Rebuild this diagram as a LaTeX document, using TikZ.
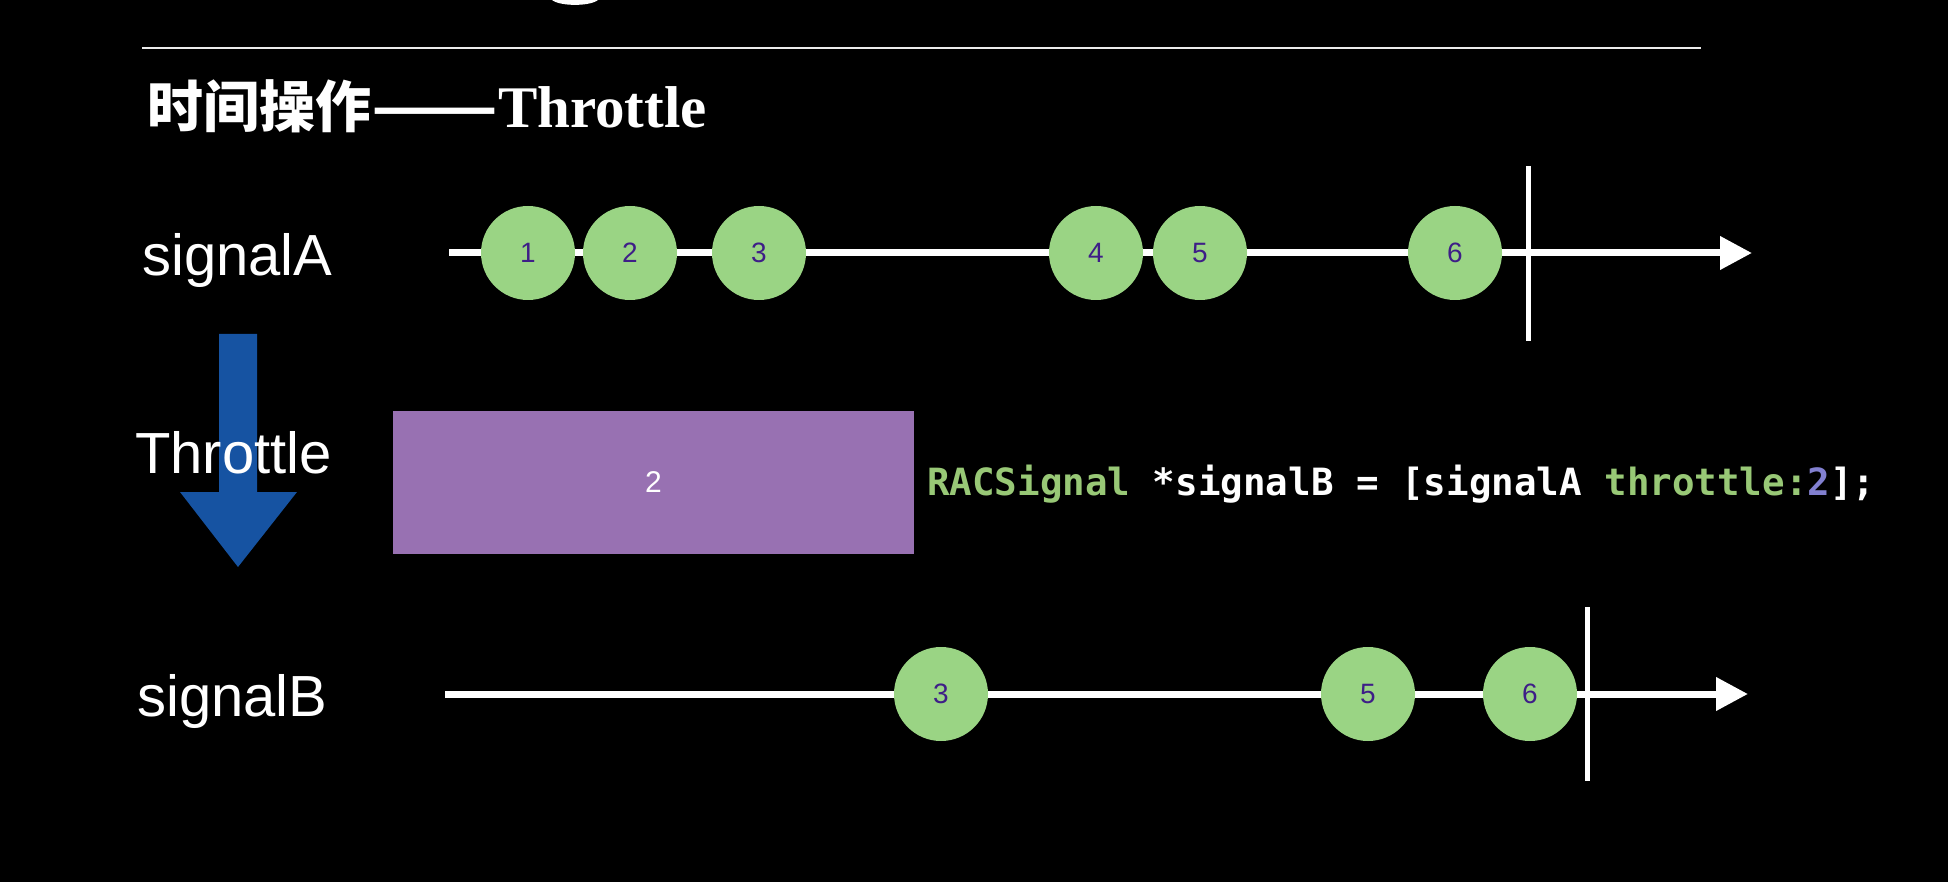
\documentclass[tikz,border=0pt]{standalone}
\usepackage{fontspec}
\setmainfont{Liberation Sans}
\newfontfamily\cjkfont{Noto Sans CJK SC}
\newfontfamily\serffont{Liberation Serif}
\newfontfamily\codefont{DejaVu Sans Mono}
\usetikzlibrary{arrows.meta}
\definecolor{ballgreen}{RGB}{154,212,132}
\definecolor{numpurple}{RGB}{62,30,135}
\definecolor{boxpurple}{RGB}{152,113,178}
\definecolor{arrowblue}{RGB}{22,83,162}
\definecolor{codegreen}{RGB}{152,200,118}
\definecolor{codenum}{RGB}{130,128,208}
\definecolor{rulegray}{RGB}{235,235,235}
\begin{document}
\begin{tikzpicture}[x=1pt,y=-1pt,
  ball/.style={circle,fill=ballgreen,minimum size=94pt,inner sep=0pt,text=numpurple,font=\fontsize{28}{28}\selectfont},
  axisline/.style={white,line width=7pt,-{Triangle[length=32pt,width=32pt]}},
  endbar/.style={white,line width=5pt},
  siglabel/.style={text=white,anchor=base west,inner sep=0pt,font=\fontsize{58}{58}\selectfont}]
\fill[black] (0,0) rectangle (1948,882);
\useasboundingbox (0,0) rectangle (1948,882);
% cut-off glyph at the top
\fill[white] (552,0) .. controls (560,6.5) and (590,6.5) .. (598,0) -- cycle;
% rule
\coordinate (rl) at (142,48);
\coordinate (rr) at (1701,48);
\draw[rulegray,line width=2pt] (rl) -- (rr);
% title
\node[anchor=base west,inner sep=0pt,text=white] (title) at (147,128)
  {{\cjkfont\bfseries\fontsize{56}{56}\selectfont 时间操作\resizebox{127pt}{\height}{——}}{\serffont\bfseries\fontsize{59}{59}\selectfont Throttle}};
% blue arrow
\fill[arrowblue] (219,334) -- (257,334) -- (257,492) -- (297,492) -- (238,567) -- (180,492) -- (219,492) -- cycle;
% labels
\node[siglabel] (sa) at (142,276) {signalA};
\node[siglabel] (th) at (135,473) {Throttle};
\node[siglabel] (sb) at (137,716) {signalB};
% throttle box
\node[fill=boxpurple,minimum width=521pt,minimum height=143pt,inner sep=0pt,text=white,font=\fontsize{30}{30}\selectfont] (box) at (653.5,482.5) {2};
% code
\node[anchor=west,inner sep=0pt,text=white,font=\codefont\bfseries\fontsize{37.5}{37.5}\selectfont] (code) at (927,484)
  {\textcolor{codegreen}{RACSignal} *signalB = [signalA \textcolor{codegreen}{throttle:}\textcolor{codenum}{2}];};
% signal A
\coordinate (a0) at (449,253);
\coordinate (a1) at (1752,253);
\draw[axisline] (a0) -- (a1);
\coordinate (ea0) at (1528,166);
\coordinate (ea1) at (1528,341);
\draw[endbar] (ea0) -- (ea1);
\node[ball] (ba1) at (528,253) {1};
\node[ball] (ba2) at (630,253) {2};
\node[ball] (ba3) at (759,253) {3};
\node[ball] (ba4) at (1096,253) {4};
\node[ball] (ba5) at (1200,253) {5};
\node[ball] (ba6) at (1455,253) {6};
% signal B
\coordinate (b0) at (445,694);
\coordinate (b1) at (1748,694);
\draw[axisline] (b0) -- (b1);
\coordinate (eb0) at (1587,607);
\coordinate (eb1) at (1587,781);
\draw[endbar] (eb0) -- (eb1);
\node[ball] (bb3) at (941,694) {3};
\node[ball] (bb5) at (1368,694) {5};
\node[ball] (bb6) at (1530,694) {6};
\end{tikzpicture}
\end{document}
